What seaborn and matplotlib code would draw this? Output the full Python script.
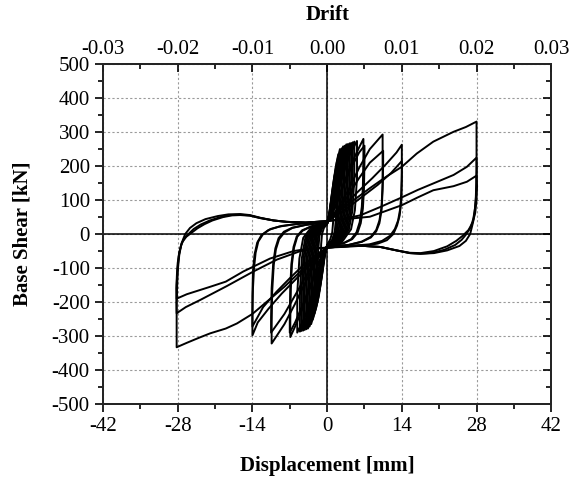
import numpy as np
import pandas as pd
import matplotlib
matplotlib.use("Agg")
import matplotlib.pyplot as plt
import seaborn as sns

# Cicli di isteresi (spostamento [mm], taglio alla base [kN]) letti dal grafico
# cicli piccoli
d_s1 = [0, 0.24, 0.54, 0.9, 1.2, 1.2, 1.12, 0.96, 0.6, 0, -0.24, -0.54, -0.9, -1.2, -1.2, -1.12, -0.96, -0.6, 0]
f_s1 = [30, 45, 75, 110, 130, 80, 35, 5, -15, -32, -45, -70, -100, -120, -75, -30, 0, 18, 30]
d_s2 = [0, 0.36, 0.81, 1.35, 1.8, 1.8, 1.67, 1.44, 0.9, 0, -0.36, -0.81, -1.35, -1.8, -1.8, -1.67, -1.44, -0.9, 0]
f_s2 = [30, 55, 110, 170, 200, 120, 50, 8, -18, -33, -55, -105, -160, -190, -115, -48, -5, 18, 30]
d_s3 = [0, 0.48, 1.08, 1.8, 2.4, 2.4, 2.23, 1.92, 1.2, 0, -0.48, -1.08, -1.8, -2.4, -2.4, -2.23, -1.92, -1.2, 0]
f_s3 = [31, 65, 135, 210, 250, 150, 62, 10, -20, -34, -62, -130, -200, -235, -140, -58, -6, 19, 31]
d_s4 = [0, 0.6, 1.35, 2.25, 3.0, 3.0, 2.8, 2.4, 1.5, 0, -0.6, -1.35, -2.25, -3.0, -3.0, -2.8, -2.4, -1.5, 0]
f_s4 = [32, 68, 140, 220, 258, 155, 64, 10, -20, -35, -68, -145, -225, -265, -160, -66, -8, 20, 32]
d_s5 = [0, 0.72, 1.62, 2.7, 3.6, 3.6, 3.35, 2.88, 1.8, 0, -0.72, -1.62, -2.7, -3.6, -3.6, -3.35, -2.88, -1.8, 0]
f_s5 = [32, 70, 145, 225, 264, 158, 66, 12, -21, -36, -70, -150, -235, -278, -167, -70, -10, 21, 32]
d_s6 = [0, 0.84, 1.89, 3.15, 4.2, 4.2, 3.9, 3.36, 2.1, 0, -0.84, -1.89, -3.15, -4.2, -4.2, -3.9, -3.36, -2.1, 0]
f_s6 = [33, 70, 147, 227, 267, 160, 67, 12, -22, -36, -70, -155, -240, -282, -170, -70, -10, 22, 33]
d_s7 = [0, 0.96, 2.16, 3.6, 4.8, 4.8, 4.46, 3.84, 2.4, 0, -0.96, -2.16, -3.6, -4.8, -4.8, -4.46, -3.84, -2.4, 0]
f_s7 = [33, 72, 150, 230, 270, 162, 68, 13, -22, -37, -72, -157, -242, -285, -171, -71, -10, 22, 33]
d_s8 = [0, 1.12, 2.52, 4.2, 5.6, 5.6, 5.2, 4.48, 2.8, 0, -1.12, -2.52, -4.2, -5.6, -5.6, -5.2, -4.48, -2.8, 0]
f_s8 = [34, 72, 150, 232, 274, 165, 70, 14, -23, -37, -73, -160, -245, -290, -174, -72, -11, 23, 34]
# secondi cicli piccoli
d_t1 = [0, 0.42, 0.95, 1.58, 2.1, 2.1, 1.95, 1.68, 1.05, 0, -0.42, -0.95, -1.58, -2.1, -2.1, -1.95, -1.68, -1.05, 0]
f_t1 = [30, 60, 125, 195, 235, 140, 58, 9, -19, -33, -58, -120, -185, -215, -130, -54, -5, 18, 30]
d_t2 = [0, 0.54, 1.22, 2.03, 2.7, 2.7, 2.51, 2.16, 1.35, 0, -0.54, -1.22, -2.03, -2.7, -2.7, -2.51, -2.16, -1.35, 0]
f_t2 = [31, 66, 137, 215, 252, 152, 63, 10, -20, -34, -65, -138, -215, -252, -152, -62, -7, 19, 31]
d_t3 = [0, 0.66, 1.49, 2.48, 3.3, 3.3, 3.07, 2.64, 1.65, 0, -0.66, -1.49, -2.48, -3.3, -3.3, -3.07, -2.64, -1.65, 0]
f_t3 = [32, 69, 142, 222, 260, 156, 65, 11, -21, -35, -69, -148, -230, -272, -163, -68, -9, 20, 32]
d_t4 = [0, 0.78, 1.76, 2.93, 3.9, 3.9, 3.63, 3.12, 1.95, 0, -0.78, -1.76, -2.93, -3.9, -3.9, -3.63, -3.12, -1.95, 0]
f_t4 = [32, 70, 146, 226, 265, 159, 66, 12, -21, -36, -70, -152, -238, -280, -168, -70, -10, 21, 32]
d_t5 = [0, 0.9, 2.03, 3.38, 4.5, 4.5, 4.19, 3.6, 2.25, 0, -0.9, -2.03, -3.38, -4.5, -4.5, -4.19, -3.6, -2.25, 0]
f_t5 = [33, 71, 148, 228, 268, 161, 67, 12, -22, -36, -71, -156, -241, -284, -170, -70, -10, 22, 33]
d_t6 = [0, 1.02, 2.3, 3.83, 5.1, 5.1, 4.74, 4.08, 2.55, 0, -1.02, -2.3, -3.83, -5.1, -5.1, -4.74, -4.08, -2.55, 0]
f_t6 = [34, 72, 150, 231, 272, 163, 69, 13, -22, -37, -72, -158, -244, -287, -172, -71, -10, 22, 34]

# cicli a 7 mm
d_7a = [0, 1.5, 3, 4.5, 6, 6.8, 6.8, 6.7, 6.5, 6.1, 5.5, 4.5, 3, 0,
        -1.5, -3, -4.5, -6, -6.9, -6.9, -6.8, -6.6, -6.2, -5.6, -4.6, -3, 0]
f_7a = [34, 80, 145, 205, 255, 280, 230, 140, 80, 35, 5, -15, -27, -36,
        -82, -150, -215, -272, -303, -250, -160, -90, -40, -8, 10, 22, 34]
d_7b = [0, 1.5, 3, 4.5, 6, 7, 7, 6.9, 6.7, 6.3, 5.7, 4.7, 3.1, 0,
        -1.5, -3, -4.5, -6, -7, -7, -6.9, -6.7, -6.3, -5.7, -4.7, -3.1, 0]
f_7b = [33, 78, 140, 195, 240, 260, 215, 130, 75, 32, 4, -15, -27, -35,
        -80, -145, -205, -260, -290, -240, -155, -88, -38, -7, 11, 22, 33]

# cicli a 10.5 mm
d_10a = [0, 2, 4, 6, 8, 10.4, 10.4, 10.4, 10.2, 9.8, 9.2, 8.2, 6.5, 4, 0,
         -2, -4, -6, -8, -10.4, -10.4, -10.3, -10, -9.6, -9, -8, -6.5, -4, 0]
f_10a = [36, 75, 130, 195, 250, 293, 250, 150, 80, 40, 12, -8, -22, -32, -38,
         -78, -140, -205, -265, -322, -270, -170, -90, -45, -15, 5, 18, 27, 36]
d_10b = [0, 2, 4, 6, 8, 10.5, 10.5, 10.4, 10.2, 9.8, 9.2, 8.2, 6.5, 4, 0,
         -2, -4, -6, -8, -10.5, -10.5, -10.4, -10.1, -9.7, -9.1, -8.1, -6.5, -4, 0]
f_10b = [35, 68, 115, 165, 210, 245, 210, 130, 70, 32, 8, -10, -23, -32, -37,
         -72, -125, -180, -235, -290, -245, -160, -85, -42, -12, 7, 19, 27, 35]

# cicli a 14 mm
d_14a = [0, 1.5, 3.5, 6, 8.5, 11, 13, 14, 14, 14, 13.9, 13.6, 13.1, 12.4, 11.2, 9.5, 7, 4, 0,
         -1.5, -3.5, -6, -8.5, -11, -13, -14, -14, -14, -13.9, -13.6, -13.1, -12.3, -11, -9, -6.5, -3.5, 0]
f_14a = [38, 60, 90, 128, 165, 205, 240, 263, 230, 160, 100, 55, 25, 0, -18, -28, -34, -37, -40,
         -62, -95, -135, -175, -220, -260, -298, -260, -180, -110, -60, -25, -3, 12, 22, 28, 33, 38]
d_14b = [0, 2, 4.5, 7, 9.5, 12, 14, 14, 13.9, 13.7, 13.3, 12.7, 11.8, 10.3, 8, 4.5, 0,
         -2, -4.5, -7, -9.5, -12, -14, -14, -13.9, -13.7, -13.4, -12.9, -12, -10.6, -8.5, -5.5, -2.5, 0]
f_14b = [36, 58, 85, 115, 145, 180, 215, 180, 120, 75, 40, 15, -5, -20, -30, -35, -39,
         -60, -92, -130, -170, -215, -272, -235, -160, -100, -55, -22, 0, 15, 24, 30, 34, 36]

# cicli a 28 mm
d_28a = [0, 2, 5, 8, 11, 14, 16.8, 19.9, 23.7, 26, 28,
         28, 28, 27.95, 27.85, 27.65, 27.35, 26.8, 26, 24.8, 22.5, 20, 17.5, 15.5, 13, 10, 6, 3, 0,
         -2, -5, -8, -11, -14, -16.9, -19, -21.9, -24, -26.3, -28.2,
         -28.2, -28.2, -28.1, -27.95, -27.7, -27.3, -26.6, -25.7, -24.5, -22.8, -20.5, -18.5, -16.3, -14.5, -12.5, -10, -7.6, -4, 0]
f_28a = [40, 65, 100, 135, 168, 198, 237, 272, 301, 315, 331,
         300, 220, 150, 100, 65, 35, 0, -20, -35, -48, -56, -58, -56, -48, -38, -34, -36, -40,
         -65, -110, -155, -195, -235, -263, -278, -292, -305, -320, -333,
         -290, -220, -150, -100, -60, -28, 0, 18, 32, 44, 53, 58, 59, 56, 48, 40, 36, 34, 38]
d_28b = [0, 3, 6.2, 10, 14, 17, 19.9, 23.7, 26.2, 28,
         28.05, 28, 27.9, 27.7, 27.4, 26.9, 26.1, 25.2, 24, 22, 19.8, 17.5, 15.5, 13, 10, 6, 3, 0,
         -2.5, -5, -9.4, -13.8, -18.8, -23.8, -26.5, -28.2,
         -28.25, -28.2, -28.05, -27.8, -27.4, -26.8, -26, -25, -23.7, -22, -20, -18.2, -16.3, -14.5, -12.5, -10, -7.6, -4, 0]
f_28b = [38, 45, 55, 80, 108, 130, 149, 174, 198, 225,
         190, 150, 110, 75, 45, 20, 0, -17, -32, -46, -55, -58, -56, -48, -38, -34, -36, -40,
         -43, -50, -75, -110, -153, -194, -215, -233,
         -200, -150, -105, -65, -35, -12, 0, 15, 28, 40, 50, 56, 57, 55, 47, 40, 36, 34, 38]
d_28c = [0, 4, 8, 11, 14, 17, 19.9, 23.7, 26.2, 28,
         28.1, 28, 27.75, 27.3, 26.5, 25.4, 24.2, 22.5, 20, 17.5, 15.5, 13, 10, 6, 3, 0,
         -3, -6.3, -10.7, -15.7, -19, -21.9, -24.5, -26.3, -28.2,
         -28.25, -28.15, -28, -27.7, -27.2, -26.4, -25.4, -24.3, -23, -21.5, -19.5, -17.8, -16.3, -14.5, -12.5, -10, -7.6, -4, 0]
f_28c = [38, 45, 51, 68, 85, 108, 129, 141, 154, 172,
         140, 100, 62, 35, 12, -5, -20, -36, -50, -56, -55, -48, -38, -34, -36, -40,
         -42, -50, -72, -110, -140, -155, -168, -177, -190,
         -160, -120, -85, -52, -25, -8, 4, 17, 29, 40, 50, 55, 56, 54, 47, 40, 36, 34, 38]

loops = [
    ("s1", d_s1, f_s1), ("s2", d_s2, f_s2), ("s3", d_s3, f_s3), ("s4", d_s4, f_s4),
    ("s5", d_s5, f_s5), ("s6", d_s6, f_s6), ("s7", d_s7, f_s7), ("s8", d_s8, f_s8),
    ("t1", d_t1, f_t1), ("t2", d_t2, f_t2), ("t3", d_t3, f_t3), ("t4", d_t4, f_t4),
    ("t5", d_t5, f_t5), ("t6", d_t6, f_t6),
    ("7a", d_7a, f_7a), ("7b", d_7b, f_7b), ("10a", d_10a, f_10a), ("10b", d_10b, f_10b),
    ("14a", d_14a, f_14a), ("14b", d_14b, f_14b),
    ("28a", d_28a, f_28a), ("28b", d_28b, f_28b), ("28c", d_28c, f_28c),
]
frames = []
for name, d, f in loops:
    frames.append(pd.DataFrame({"ciclo": name, "disp": d, "force": f}))
df = pd.concat(frames, ignore_index=True)

x_ticks = [-42, -28, -14, 0, 14, 28, 42]
y_ticks = [-500, -400, -300, -200, -100, 0, 100, 200, 300, 400, 500]
drift_ticks = [-0.03, -0.02, -0.01, 0.00, 0.01, 0.02, 0.03]
drift_labels = ["-0.03", "-0.02", "-0.01", "0.00", "0.01", "0.02", "0.03"]

sns.set_theme(style="white")
plt.rcParams["font.family"] = ["Liberation Serif", "DejaVu Serif"]
plt.rcParams["axes.unicode_minus"] = False
plt.rcParams["text.color"] = "black"
plt.rcParams["axes.labelcolor"] = "black"
plt.rcParams["xtick.color"] = "black"
plt.rcParams["ytick.color"] = "black"

fig = plt.figure(figsize=(5.71, 4.78), dpi=100)
ax = fig.add_axes([0.1804, 0.1548, 0.785, 0.711])

ax.axhline(0, color="black", lw=1.1, zorder=1)
ax.axvline(0, color="black", lw=1.1, zorder=1)

sns.lineplot(data=df, x="disp", y="force", units="ciclo", estimator=None, sort=False,
             color="black", lw=1.4, ax=ax, zorder=3)

ax.set_xlim(-42, 42)
ax.set_ylim(-500, 500)
ax.set_xticks(x_ticks)
ax.set_xticks(np.arange(-35, 42, 14), minor=True)
ax.set_yticks(y_ticks)
ax.set_yticks(np.arange(-450, 500, 100), minor=True)
ax.grid(True, which="major", color="#9a9a9a", linestyle=(0, (2, 2)), lw=0.8)
ax.set_axisbelow(True)
ax.tick_params(which="major", direction="out", length=6, width=1.2, labelsize=15)
ax.tick_params(which="minor", direction="out", length=3.5, width=1.2)
ax.tick_params(axis="both", which="both", bottom=True, left=True)
for s in ax.spines.values():
    s.set_linewidth(1.4)
    s.set_color("black")

ax.set_xlabel("Displacement [mm]", fontsize=15, fontweight="bold", labelpad=14)
ax.set_ylabel("Base Shear [kN]", fontsize=15, fontweight="bold", labelpad=14)

# asse destro con tacche verso l'interno
axr = ax.twinx()
axr.set_ylim(-500, 500)
axr.set_yticks(y_ticks)
axr.set_yticks(np.arange(-450, 500, 100), minor=True)
axr.tick_params(which="major", direction="in", length=6, width=1.2, labelright=False, right=True)
axr.tick_params(which="minor", direction="in", length=3.5, width=1.2, right=True)
axr.grid(False)

# asse superiore: drift
axt = ax.twiny()
axt.set_xlim(-0.03, 0.03)
axt.set_xticks(drift_ticks)
axt.set_xticklabels(drift_labels)
axt.set_xticks(np.arange(-0.025, 0.03, 0.01), minor=True)
axt.tick_params(which="major", direction="in", length=6, width=1.2, labelsize=15, top=True, pad=4)
axt.tick_params(which="minor", direction="in", length=3.5, width=1.2, top=True)
axt.grid(False)
axt.set_xlabel("Drift", fontsize=15, fontweight="bold", labelpad=14)

fig.savefig("out.png", dpi=100)
